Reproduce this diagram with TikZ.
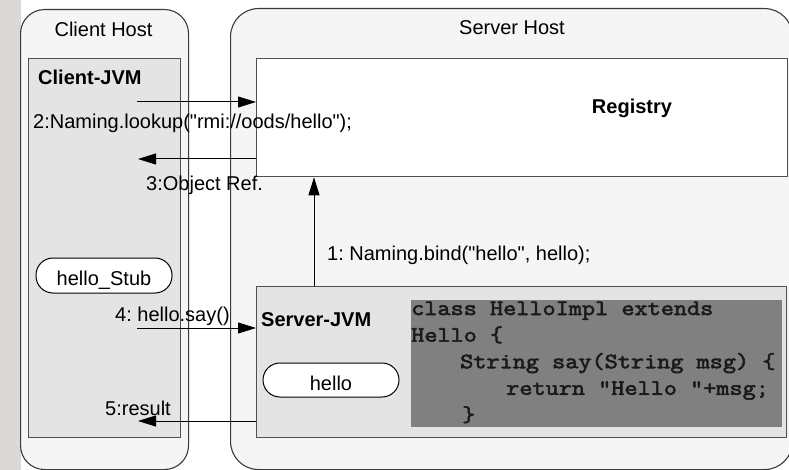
\documentclass[tikz,border=0pt]{standalone}
\usepackage{fontspec}
\setmainfont{Liberation Sans}
\newfontfamily\labelfont{Liberation Sans}
\newfontfamily\codefont{Latin Modern Mono}[FakeBold=2.8, FakeStretch=1.17]
\usetikzlibrary{arrows.meta}
\frenchspacing

\definecolor{stripgrey}{HTML}{DCD8D5}
\definecolor{hostfill}{HTML}{F5F5F5}
\definecolor{jvmfill}{HTML}{E4E4E4}
\definecolor{codefill}{HTML}{808080}
\definecolor{codeink}{HTML}{1A1A1A}
\definecolor{edge}{HTML}{3A3A3A}
\definecolor{boxedge}{HTML}{505050}

\tikzset{
  hostbox/.style={draw=edge, line width=1.1pt, fill=hostfill, anchor=north west, inner sep=0pt},
  jvmbox/.style={draw=boxedge, line width=1.3pt, fill=jvmfill, anchor=north west, inner sep=0pt},
  regbox/.style={draw=boxedge, line width=1.3pt, fill=white, anchor=north west, inner sep=0pt},
  pill/.style={draw=black, line width=1pt, fill=white, inner sep=0pt,
    minimum width=136pt, rounded corners=17pt, font=\labelfont\fontsize{20}{24}\selectfont, text depth=0pt},
  lbl/.style={font=\labelfont\fontsize{20}{24}\selectfont, inner sep=0pt, anchor=base west, text=black},
  title/.style={lbl, anchor=base},
  boldlbl/.style={lbl, font=\labelfont\fontsize{20}{24}\selectfont\bfseries},
  conn/.style={draw=black, line width=1pt, -{Triangle[length=18pt,width=11pt]}},
}

\begin{document}
\begin{tikzpicture}[x=1pt,y=-1pt]
\useasboundingbox (0,0) rectangle (789,470);

% grey margin on the left
\fill[stripgrey] (0,0) rectangle (21,470);

% hosts
\node[hostbox, minimum width=168pt, minimum height=460pt, rounded corners=24pt] (chost) at (20,9) {};
\node[hostbox, minimum width=562pt, minimum height=461pt, rounded corners=28pt] (shost) at (230,8) {};
\node[title] (chostlbl) at (103.5,37) {Client Host};
\node[title] (shostlbl) at (512,35) {Server Host};

% client side
\node[jvmbox, minimum width=152pt, minimum height=379pt] (cjvm) at (28,58) {};
\node[boldlbl] (cjvmlbl) at (38,85) {Client-JVM};
\node[pill, minimum height=35pt, text height=19pt] (stub) at (104,275.5) {hello\_Stub};

% server side
\node[regbox, minimum width=531pt, minimum height=118pt] (reg) at (256,58) {};
\node[boldlbl, anchor=base] (reglbl) at (632,114) {Registry};
\node[jvmbox, minimum width=530pt, minimum height=151pt] (sjvm) at (256,286) {};
\node[boldlbl] (sjvmlbl) at (261,326) {Server-JVM};
\node[pill, minimum height=34pt, text height=20pt] (impl) at (331,380) {hello};

% implementation listing
\node[fill=codefill, anchor=north west, inner sep=0pt, minimum width=371pt, minimum height=127pt] (codebox) at (411,300) {};
\node[anchor=base west, inner sep=0pt, text=codeink, font=\codefont\fontsize{21.8}{26.5}\selectfont] (code) at (411,315)
  {\vtop{\baselineskip=26.6pt
    \hbox{class HelloImpl extends}
    \hbox{Hello \{}
    \hbox{\hspace*{49pt}String say(String msg) \{}
    \hbox{\hspace*{95pt}return "Hello "+msg;}
    \hbox{\hspace*{51pt}\}}}};

% free ends of the connectors
\coordinate (lookupstart) at (137,102);
\coordinate (refend) at (138,159);
\coordinate (bindx) at (314,0);
\coordinate (saystart) at (137,328);
\coordinate (resultend) at (138,421);

% messages
\draw[conn] (sjvm.north -| bindx) -- (reg.south -| bindx);
\node[lbl] (bindlbl) at (327,260) {1: Naming.bind("hello", hello);};

\draw[conn] (lookupstart) -- (lookupstart -| reg.west);
\node[lbl] (lookuplbl) at (33,129) {2:Naming.lookup("rmi://oods/hello");};

\draw[conn] (reg.west |- refend) -- (refend);
\node[lbl] (reflbl) at (146,191) {3:Object Ref.};

\draw[conn] (saystart) -- (saystart -| sjvm.west);
\node[lbl] (saylbl) at (115,321) {4: hello.say()};

\draw[conn] (sjvm.west |- resultend) -- (resultend);
\node[lbl] (resultlbl) at (105,415) {5:result};
\end{tikzpicture}
\end{document}
